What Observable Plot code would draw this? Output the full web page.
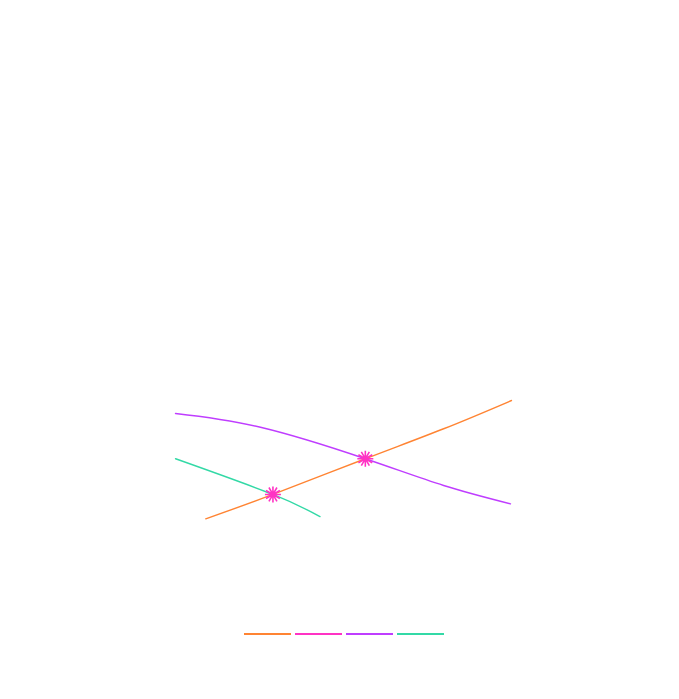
<!DOCTYPE html>
<html>
<head>
<meta charset="utf-8">
<script src="https://cdn.jsdelivr.net/npm/d3@7"></script>
<script src="https://cdn.jsdelivr.net/npm/@observablehq/plot@0.6"></script>
<style>
  html, body { margin: 0; padding: 0; background: #fff; }
  #chart svg { display: block; }
  #legend { display: flex; gap: 4px; margin-left: 244px; padding-top: 13px; height: 20px; }
  #legend .sw { width: 47px; height: 1.6px; }
</style>
</head>
<body>
<div id="chart"></div>
<div id="legend"></div>
<script>
// Series (quantity, price)
const supplyQ = [0.9, 2.9, 5.65, 8.0, 10];
const supplyP = [1.55, 3.29, 5.84, 8.0, 10];
const demandQ = [0, 2.53, 5.65, 7.98, 9.97];
const demandP = [9.07, 8.09, 5.84, 3.93, 2.62];
const demand2Q = [0, 2.9, 4.3];
const demand2P = [5.84, 3.29, 1.71];
const eqQ = [2.9, 5.65];
const eqP = [3.29, 5.84];
const seriesNames = ["Supply", "Equilibrium", "Demand", "Demand 2"];
const seriesColors = ["#ff8433", "#ff33c4", "#bf3dff", "#33d9a6"];

const toRows = (qs, ps) => qs.map((q, i) => ({q, p: ps[i]}));
const supply = toRows(supplyQ, supplyP);
const demand = toRows(demandQ, demandP);
const demand2 = toRows(demand2Q, demand2P);
const eq = toRows(eqQ, eqP);

const starSymbol = {
  draw(context, size) {
    const r = Math.sqrt(size / Math.PI);
    for (let i = 0; i < 6; i++) {
      const a = i * Math.PI / 6;
      context.moveTo(r * Math.cos(a), r * Math.sin(a));
      context.lineTo(-r * Math.cos(a), -r * Math.sin(a));
    }
  }
};

const chart = Plot.plot({
  width: 679,
  height: 620,
  marginLeft: 175,
  marginRight: 168,
  marginTop: 400,
  marginBottom: 80,
  x: {domain: [0, 10], axis: null},
  y: {domain: [0, 10], axis: null},
  marks: [
    Plot.line(demand2, {x: "q", y: "p", stroke: seriesColors[3], strokeWidth: 1.4, curve: "natural"}),
    Plot.line(demand, {x: "q", y: "p", stroke: seriesColors[2], strokeWidth: 1.4, curve: "natural"}),
    Plot.line(supply, {x: "q", y: "p", stroke: seriesColors[0], strokeWidth: 1.4, curve: "natural"}),
    Plot.dot(eq, {x: "q", y: "p", r: 8, symbol: starSymbol, stroke: seriesColors[1], strokeWidth: 1.6, fill: "none"})
  ]
});
document.getElementById("chart").appendChild(chart);

const legend = document.getElementById("legend");
seriesNames.forEach((name, i) => {
  const s = document.createElement("div");
  s.className = "sw";
  s.title = name;
  s.style.background = seriesColors[i];
  legend.appendChild(s);
});
</script>
</body>
</html>
